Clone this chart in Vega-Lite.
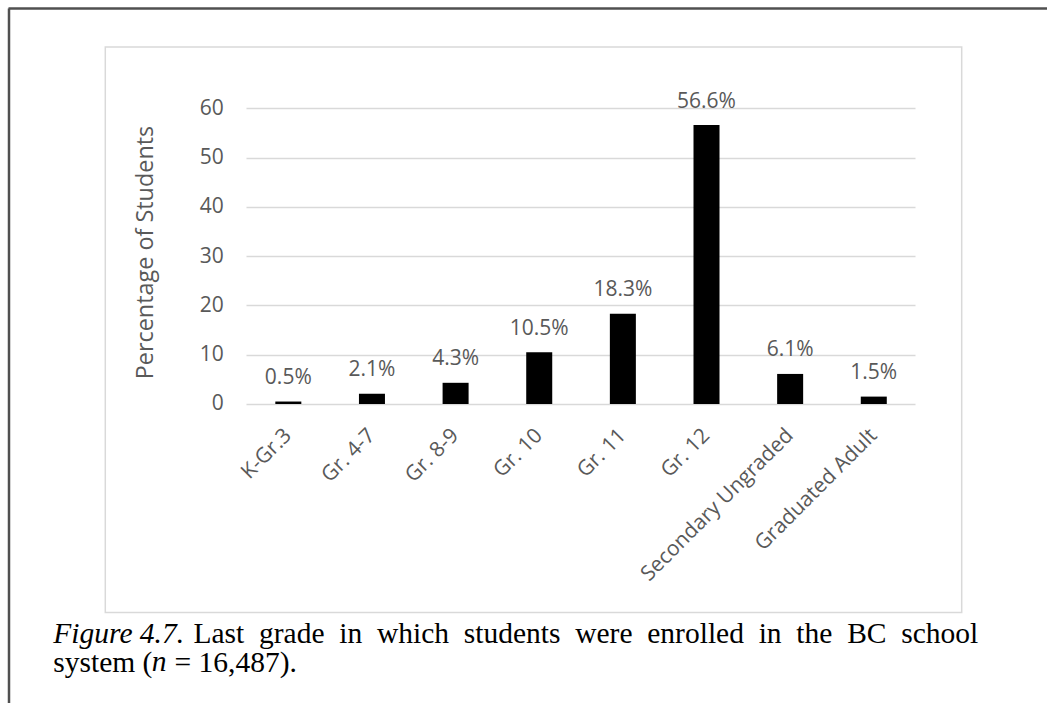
{
  "$schema": "https://vega.github.io/schema/vega-lite/v6.json",
  "width": 856.4,
  "height": 565.5,
  "autosize": {"type": "none"},
  "padding": {"left": 105.3, "top": 47, "right": 85.3, "bottom": 90.5},
  "background": "white",
  "data": {
    "values": [
      {"grade": "K-Gr.3", "pct": 0.5, "label": "0.5%"},
      {"grade": "Gr. 4-7", "pct": 2.1, "label": "2.1%"},
      {"grade": "Gr. 8-9", "pct": 4.3, "label": "4.3%"},
      {"grade": "Gr. 10", "pct": 10.5, "label": "10.5%"},
      {"grade": "Gr. 11", "pct": 18.3, "label": "18.3%"},
      {"grade": "Gr. 12", "pct": 56.6, "label": "56.6%"},
      {"grade": "Secondary Ungraded", "pct": 6.1, "label": "6.1%"},
      {"grade": "Graduated Adult", "pct": 1.5, "label": "1.5%"}
    ]
  },
  "title": {
    "text": ["Figure 4.7.", "\u2060\u00a0\u00a0\u00a0\u00a0\u00a0\u00a0\u00a0\u00a0\u00a0\u00a0\u00a0\u00a0\u00a0\u200an"],
    "subtitle": [
      "\u2060\u00a0\u00a0\u00a0\u00a0\u00a0\u00a0\u00a0\u00a0\u00a0\u00a0\u00a0\u00a0\u00a0\u00a0\u00a0\u00a0\u00a0\u00a0\u00a0Last\u2002grade\u2002in\u2002which\u2002students\u2002were\u2002enrolled\u2002in\u2002the\u2002BC\u2002school",
      "system (\u00a0\u00a0 = 16,487)."
    ],
    "orient": "bottom",
    "anchor": "start",
    "frame": "group",
    "dx": -52,
    "dy": -130,
    "offset": 8,
    "limit": 1000,
    "font": "Liberation Serif",
    "fontSize": 29.5,
    "fontStyle": "italic",
    "fontWeight": "normal",
    "color": "#000000",
    "lineHeight": 28.3,
    "subtitleFont": "Liberation Serif",
    "subtitleFontSize": 29.5,
    "subtitleFontStyle": "normal",
    "subtitleFontWeight": "normal",
    "subtitleColor": "#000000",
    "subtitleLineHeight": 28.3,
    "subtitlePadding": -57.5
  },
  "config": {
    "view": {"stroke": "#d9d9d9", "strokeWidth": 1.5},
    "font": "Open Sans"
  },
  "layer": [
    {
      "layer": [
        {
          "mark": {"type": "bar", "color": "#000000"},
          "encoding": {
            "x": {
              "field": "grade",
              "type": "nominal",
              "sort": null,
              "scale": {"range": [141.2, 810.3], "paddingInner": 0.689, "paddingOuter": 0.3445, "round": false},
              "axis": {
                "title": null,
                "orient": "bottom",
                "offset": -208.5,
                "labelAngle": -45,
                "labelAlign": "right",
                "labelBaseline": "middle",
                "labelPadding": 28,
                "ticks": false,
                "domain": false,
                "grid": false,
                "labelFont": "Open Sans",
                "labelFontSize": 21,
                "labelColor": "#595959",
                "labelLimit": 400
              }
            },
            "y": {
              "field": "pct",
              "type": "quantitative",
              "scale": {"domain": [-42.31, 72.44], "nice": false, "zero": false},
              "axis": {
                "orient": "left",
                "offset": -809.7,
                "values": [0, 10, 20, 30, 40, 50, 60],
                "grid": false,
                "domain": false,
                "ticks": true,
                "tickSize": 669,
                "tickColor": "#d9d9d9",
                "tickWidth": 1.5,
                "labelPadding": 22.7,
                "labelFont": "Open Sans",
                "labelFontSize": 21,
                "labelColor": "#595959",
                "title": "Percentage of Students",
                "titleFont": "Open Sans",
                "titleFontSize": 23.4,
                "titleFontWeight": "normal",
                "titleColor": "#595959",
                "titleAngle": -90,
                "titleAlign": "center",
                "titleBaseline": "alphabetic",
                "titleX": -762.3,
                "titleY": 205
              }
            },
            "y2": {"datum": 0}
          }
        },
        {
          "mark": {"type": "text", "dy": -17.5, "baseline": "alphabetic", "align": "center", "font": "Open Sans", "fontSize": 21, "fill": "#595959"},
          "encoding": {
            "x": {"field": "grade", "type": "nominal", "sort": null},
            "y": {"field": "pct", "type": "quantitative"},
            "text": {"field": "label"}
          }
        }
      ]
    },
    {
      "mark": {"type": "point", "opacity": 0},
      "encoding": {
        "x": {
          "field": "pct",
          "type": "quantitative",
          "scale": {"domain": [0, 1], "range": [-97.3, 941.7]},
          "axis": {"orient": "top", "offset": 39, "domainColor": "#505050", "domainWidth": 2.5, "labels": false, "ticks": false, "grid": false, "title": null}
        },
        "y": {
          "field": "pct",
          "type": "quantitative",
          "scale": {"domain": [0, 1], "range": [656, -39]},
          "axis": {"orient": "left", "offset": 96.8, "domainColor": "#505050", "domainWidth": 2.5, "labels": false, "ticks": false, "grid": false, "title": null}
        }
      }
    }
  ],
  "resolve": {
    "scale": {"x": "independent", "y": "independent"},
    "axis": {"x": "independent", "y": "independent"}
  }
}
